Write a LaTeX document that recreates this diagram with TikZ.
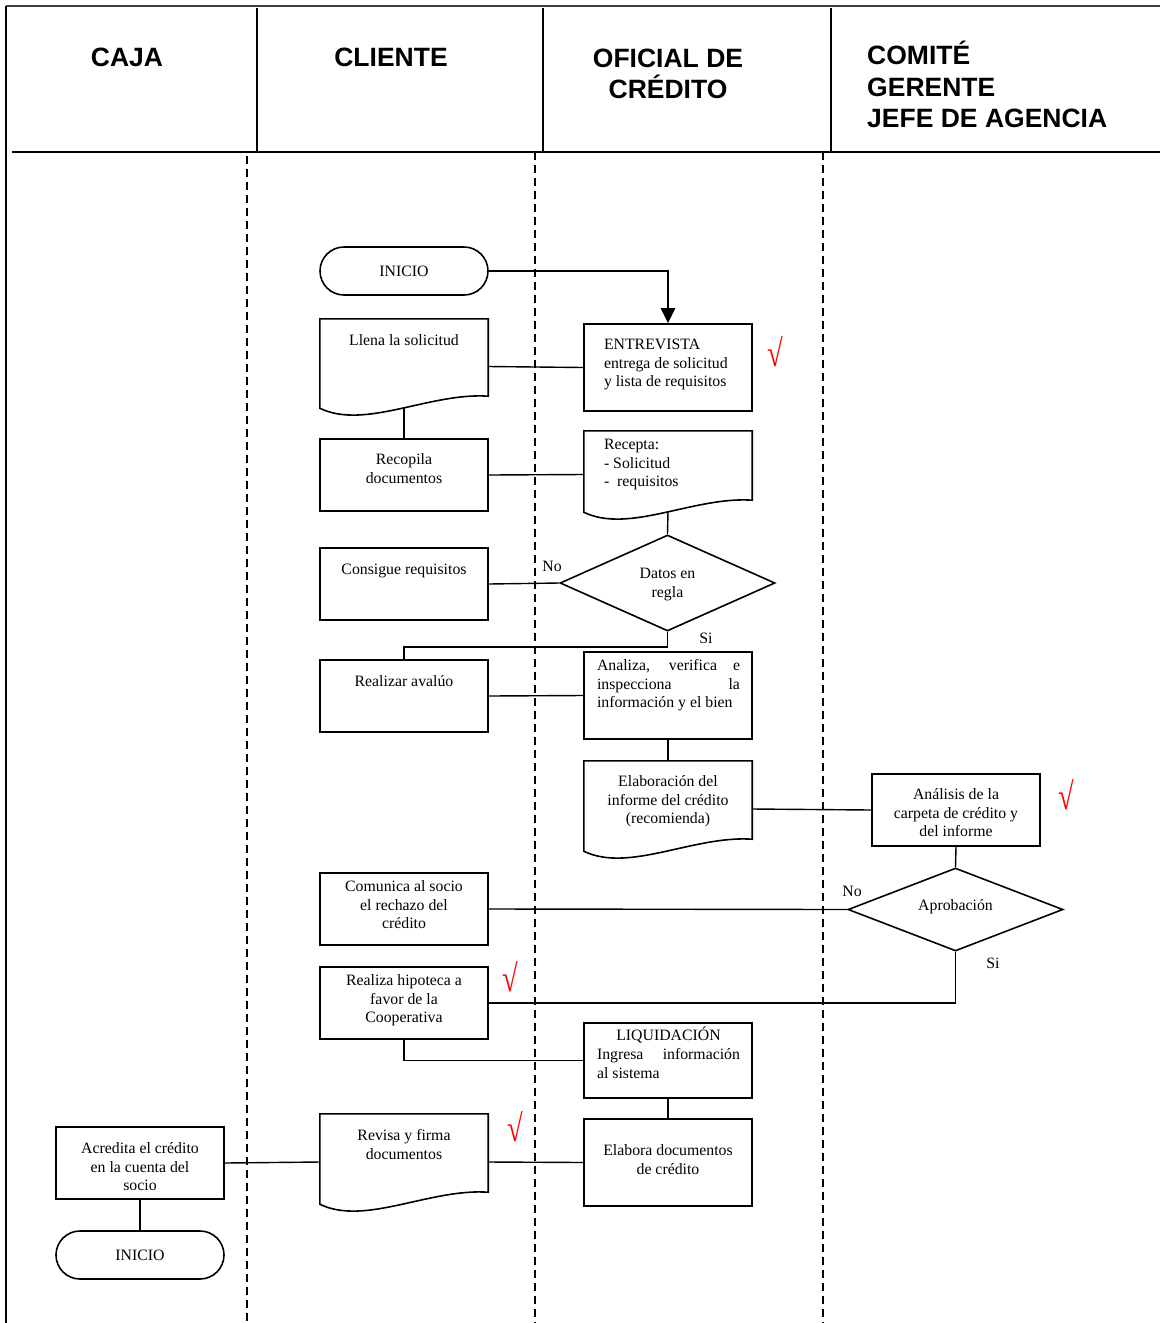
\documentclass[tikz,border=0pt]{standalone}
\usepackage{fontspec}
\setmainfont{Liberation Serif}
\newfontfamily\hdrfont{Liberation Sans}
\usetikzlibrary{shapes.geometric,calc,arrows.meta}
% box text: #1 height, #2 top offset, #3 alignment, #4 text
\newcommand{\bt}[4]{\begin{minipage}[c][#1][t]{168pt}\vspace*{#2}#3\strut #4\par\end{minipage}}
% zero-size centred text (for decisions)
\newcommand{\zt}[1]{\makebox[0pt][c]{\raisebox{0pt}[0pt][0pt]{\begin{tabular}{@{}c@{}}#1\end{tabular}}}}
% check mark
\newcommand{\chkmark}{\scalebox{0.75}[1]{√}}
% document shape drawn around a named node
\newcommand{\docpath}[1]{\draw[boxline] ($(#1.south west)+(0,-6)$) -- (#1.north west) -- (#1.north east) -- ($(#1.south east)+(0,-18)$) .. controls ($(#1.south west)+(110,-22)$) and ($(#1.south west)+(45,16)$) .. ($(#1.south west)+(0,-6)$) -- cycle;}
\tikzset{
  boxline/.style={line width=1.6pt, line join=miter},
  procbox/.style={draw, line width=1.6pt, inner sep=0pt},
  docbox/.style={inner sep=0pt},
  decbox/.style={diamond, draw, line width=1.6pt, inner sep=0pt, minimum width=215pt},
  termbox/.style={draw, line width=1.6pt, rounded corners=24pt, minimum width=168pt, minimum height=48pt, inner sep=0pt},
  conn/.style={line width=1.4pt},
  lbl/.style={inner sep=0pt},
  chk/.style={text=red, font=\fontsize{38}{38}\selectfont, inner sep=0pt},
  lane/.style={line width=1.4pt, dash pattern=on 8pt off 5pt},
  hdr/.style={font=\hdrfont\bfseries\fontsize{26.5}{31.5}\selectfont, inner sep=0pt},
}
\begin{document}
\begin{tikzpicture}[x=1pt, y=-1pt, font=\fontsize{15.8}{18.8}\selectfont]
\useasboundingbox (0,0) rectangle (1160,1323);
% frame and header
\draw[line width=1.2pt, black!75] (6,6) -- (1160,6);
\draw[line width=1.2pt] (6,6) -- (6,1323);
\draw[line width=1.4pt] (257,8) -- (257,152);
\draw[line width=1.4pt] (543,8) -- (543,152);
\draw[line width=1.4pt] (831,8) -- (831,152);
\draw[line width=2pt] (12,152) -- (1160,152);
\draw[lane] (247,156) -- (247,1323);
\draw[lane] (535,152) -- (535,1323);
\draw[lane] (823,152) -- (823,1323);
\node[hdr, anchor=base] (hcaja) at (127,66.5) {CAJA};
\node[hdr, anchor=base] (hcliente) at (391,66.5) {CLIENTE};
\node[hdr, anchor=base, align=center] (hoficial) at (668,98.5) {OFICIAL DE\\CRÉDITO};
\node[hdr, anchor=base west, align=left] (hcomite) at (867,127.5) {COMITÉ\\GERENTE\\JEFE DE AGENCIA};

% nodes
\node[termbox] (inicio) at (404,271) {INICIO};
\node[docbox] (llena) at (404,366.5) {\bt{95pt}{13.2pt}{\centering}{Llena la solicitud}};
\docpath{llena}
\node[procbox] (entrevista) at (668,367.5) {\bt{87pt}{12.2pt}{\raggedright\leftskip=20pt}{ENTREVISTA\\entrega de solicitud\\y lista de requisitos}};
\node[procbox] (recopila) at (404,475) {\bt{72pt}{12.2pt}{\centering}{Recopila\\documentos}};
\node[docbox] (recepta) at (668,474.5) {\bt{87pt}{5.2pt}{\raggedright\leftskip=20pt}{Recepta:\\- Solicitud\\-\ \ requisitos}};
\docpath{recepta}
\node[procbox] (consigue) at (404,584) {\bt{72pt}{13.2pt}{\centering}{Consigue requisitos}};
\node[decbox, minimum height=96pt] (datos) at (667.5,583) {\raisebox{-10pt}{\zt{Datos en\\regla}}};
\node[procbox] (realizar) at (404,696) {\bt{72pt}{13.2pt}{\centering}{Realizar avalúo}};
\node[procbox] (analiza) at (668,695.5) {\bt{87pt}{5.2pt}{\raggedright\leftskip=13pt}{\makebox[143pt][s]{Analiza, verifica e}\\\makebox[143pt][s]{inspecciona la}\\información y el bien}};
\node[docbox] (elaboracion) at (668,809) {\bt{96pt}{12.2pt}{\centering}{Elaboración del\\informe del crédito\\(recomienda)}};
\docpath{elaboracion}
\node[procbox] (analisis) at (956,810) {\bt{72pt}{12.2pt}{\centering}{Análisis de la\\carpeta de crédito y\\del informe}};
\node[decbox, minimum height=83pt] (aprob) at (955.5,909.5) {\raisebox{-2pt}{\zt{Aprobación}}};
\node[procbox] (comunica) at (404,909) {\bt{72pt}{5.2pt}{\centering}{Comunica al socio\\el rechazo del\\crédito}};
\node[procbox] (realiza) at (404,1003) {\bt{72pt}{5.2pt}{\centering}{Realiza hipoteca a\\favor de la\\Cooperativa}};
\node[procbox] (liquid) at (668,1060.5) {\bt{75pt}{4.2pt}{\raggedright\leftskip=13pt}{\makebox[143pt][c]{LIQUIDACIÓN}\\\makebox[143pt][s]{Ingresa información}\\al sistema}};
\node[procbox] (elabdoc) at (668,1162.5) {\bt{87pt}{23.2pt}{\centering}{Elabora documentos\\de crédito}};
\node[docbox] (revisa) at (404,1162) {\bt{96pt}{13.2pt}{\centering}{Revisa y firma\\documentos}};
\docpath{revisa}
\node[procbox] (acredita) at (140,1163) {\bt{72pt}{13.2pt}{\centering}{Acredita el crédito\\en la cuenta del\\socio}};
\node[termbox] (fin) at (140,1255) {INICIO};

% labels
\node[lbl] (lno1) at (552,566) {No};
\node[lbl] (lsi1) at (706,638) {Si};
\node[lbl] (lno2) at (852,891) {No};
\node[lbl] (lsi2) at (993,963) {Si};
\node[chk] (c1) at (775,351.5) {\chkmark};
\node[chk] (c2) at (1066,795) {\chkmark};
\node[chk] (c3) at (510,977) {\chkmark};
\node[chk] (c4) at (515,1127) {\chkmark};

% connectors
\draw[line width=2.5pt, -{Triangle[length=15pt,width=14pt]}] (inicio.east) -| (entrevista.north);
\draw[conn] (llena.east) -- (entrevista.west);
\draw[conn] ($(llena.south)+(0,-7)$) -- (recopila.north);
\draw[conn] (recopila.east) -- (recepta.west);
\draw[conn] ($(recepta.south)+(0,-7)$) -- (datos.north);
\draw[conn] (consigue.east) -- (datos.west);
\draw[conn] (datos.south) -- ++(0,15) -| (realizar.north);
\draw[conn] (realizar.east) -- (analiza.west);
\draw[conn] (analiza.south) -- (elaboracion.north);
\draw[conn] (elaboracion.east) -- (analisis.west);
\draw[conn] (analisis.south) -- (aprob.north);
\draw[conn] (aprob.west) -- (comunica.east);
\draw[conn] (aprob.south) |- (realiza.east);
\draw[conn] (realiza.south) |- (liquid.west);
\draw[conn] (liquid.south) -- (elabdoc.north);
\draw[conn] (elabdoc.west) -- (revisa.east);
\draw[conn] (revisa.west) -- (acredita.east);
\draw[conn] (acredita.south) -- (fin.north);
\end{tikzpicture}
\end{document}
